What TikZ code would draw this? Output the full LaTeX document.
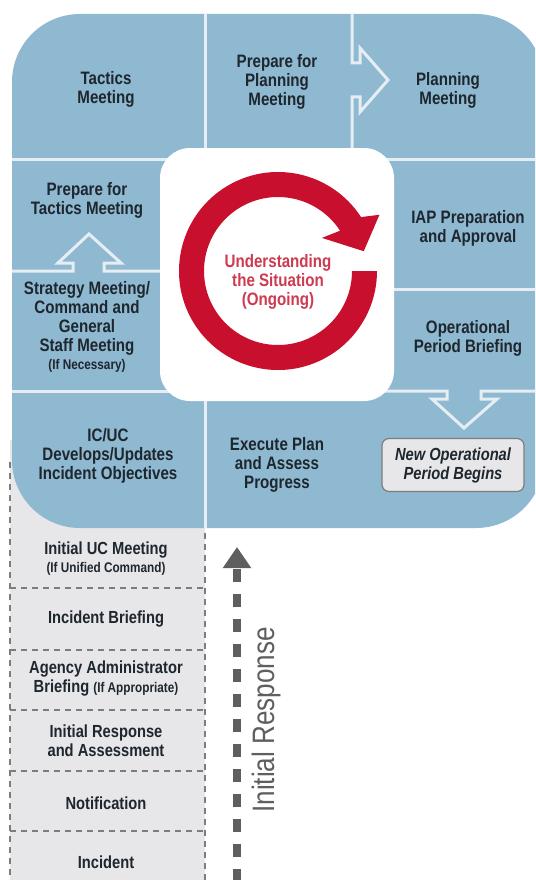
\documentclass[tikz,border=0pt]{standalone}
\usepackage{fontspec}
\setmainfont{Liberation Sans}[FakeStretch=0.84]
\usetikzlibrary{arrows.meta}
\definecolor{icsblue}{RGB}{143,185,209}
\definecolor{icsline}{RGB}{230,238,243}
\definecolor{icsink}{RGB}{30,38,46}
\definecolor{icsred}{RGB}{200,16,46}
\definecolor{icsredtxt}{RGB}{206,58,80}
\definecolor{icsgray}{RGB}{231,231,233}
\definecolor{icsdash}{RGB}{125,125,125}
\definecolor{icsmid}{RGB}{95,95,95}

\begin{document}
\begin{tikzpicture}[x=1pt, y=-1pt,
    celltext/.style={text=icsink, align=center, font=\fontsize{18}{19}\selectfont\bfseries},
    rowtext/.style={text=icsink, align=center, font=\fontsize{17.5}{19}\selectfont\bfseries},
    gridline/.style={icsline, line width=3pt},
    rowsep/.style={icsdash, line width=1.1pt, dash pattern=on 6pt off 5pt},
    newopbox/.style={draw=icsdash, fill=icsgray, line width=1.2pt, rounded corners=7pt,
      minimum width=142pt, minimum height=53pt, inner sep=0pt, align=center, text=icsink,
      font=\fontsize{17.5}{19}\selectfont\bfseries\itshape},
    irarrow/.style={icsmid, line width=8.5pt, dash pattern=on 13pt off 12pt,
      -{Triangle[length=21pt, width=27pt]}}]
    \useasboundingbox (0,0) rectangle (535,880);
    \clip (0,0) rectangle (535,880);
    \fill[white] (0,0) rectangle (535,880);

    \fill[icsgray] (10,440) rectangle (205,885);
    \draw[rowsep] (10,462) -- (10,885);
    \draw[rowsep] (205,500) -- (205,885);
    \foreach \y in {588,650,710,771,831}
        \draw[rowsep] (10,\y) -- (205,\y);

    \fill[icsblue, rounded corners=68pt] (12,14) rectangle (544,528);

    \draw[gridline] (12,159) -- (540,159);
    \draw[gridline] (205,14) -- (205,159);
    \draw[gridline] (352,14) -- (352,63) -- (360,63) -- (360,48) -- (388,80) -- (360,112) -- (360,97) -- (352,97) -- (352,159);
    \draw[gridline] (12,271) -- (73,271) -- (73,263) -- (58,263) -- (89,234) -- (121,263) -- (104,263) -- (104,271) -- (170,271);
    \draw[gridline] (12,391) -- (170,391);
    \draw[gridline] (385,289) -- (540,289);
    \draw[gridline] (385,391) -- (447,391) -- (447,399) -- (432,399) -- (464,428) -- (497,399) -- (481,399) -- (481,391) -- (540,391);
    \draw[gridline] (205,390) -- (205,528);

    \fill[white, rounded corners=30pt] (160,148) rectangle (394,401);
    \begin{scope}[shift={(278,271)}, yscale=-1]
        \fill[icsred] (33:99) arc[start angle=33, end angle=360, radius=99] -- (0:74)
            arc[start angle=360, end angle=33, radius=74] -- (37:55) -- (13:88) -- (29:116) -- cycle;
    \end{scope}
    \node[text=icsredtxt, align=center, font=\fontsize{18}{19}\selectfont\bfseries] (situation) at (278,282) {Understanding\\the Situation\\(Ongoing)};

    \node[celltext] (tactics) at (106,89) {Tactics\\Meeting};
    \node[celltext] (prepplan) at (277,82) {Prepare for\\Planning\\Meeting};
    \node[celltext] (planning) at (448,90) {Planning\\Meeting};
    \node[celltext] (preptactics) at (87,200) {Prepare for\\Tactics Meeting};
    \node[celltext] (strategy) at (87,327) {Strategy Meeting/\\Command and\\General\\Staff Meeting\\[-1pt]{\fontsize{14}{15}\selectfont(If Necessary)}};
    \node[celltext] (iap) at (468,228) {IAP Preparation\\and Approval};
    \node[celltext] (opbrief) at (468,338) {Operational\\Period Briefing};
    \node[celltext] (icuc) at (108,456) {IC/UC\\Develops/Updates\\Incident Objectives};
    \node[celltext] (execute) at (277,465) {Execute Plan\\and Assess\\Progress};
    \node[newopbox] (newop) at (453,465) {New Operational\\Period Begins};

    \node[rowtext] (ucmeet) at (106,559) {Initial UC Meeting\\[-1pt]{\fontsize{14}{15}\selectfont(If Unified Command)}};
    \node[rowtext] (incbrief) at (106,619) {Incident Briefing};
    \node[rowtext] (agency) at (106,679) {Agency Administrator\\Briefing {\fontsize{14}{15}\selectfont(If Appropriate)}};
    \node[rowtext] (initresp) at (106,741) {Initial Response\\and Assessment};
    \node[rowtext] (notif) at (106,803) {Notification};
    \node[rowtext] (incident) at (106,862) {Incident};

    \coordinate (irbot) at (237,882);
    \coordinate (irtop) at (237,547);
    \draw[irarrow] (irbot) -- (irtop);
    \node[rotate=90, text=icsmid, font=\fontsize{31}{31}\selectfont] (irlabel) at (266,720) {Initial Response};
\end{tikzpicture}
\end{document}
